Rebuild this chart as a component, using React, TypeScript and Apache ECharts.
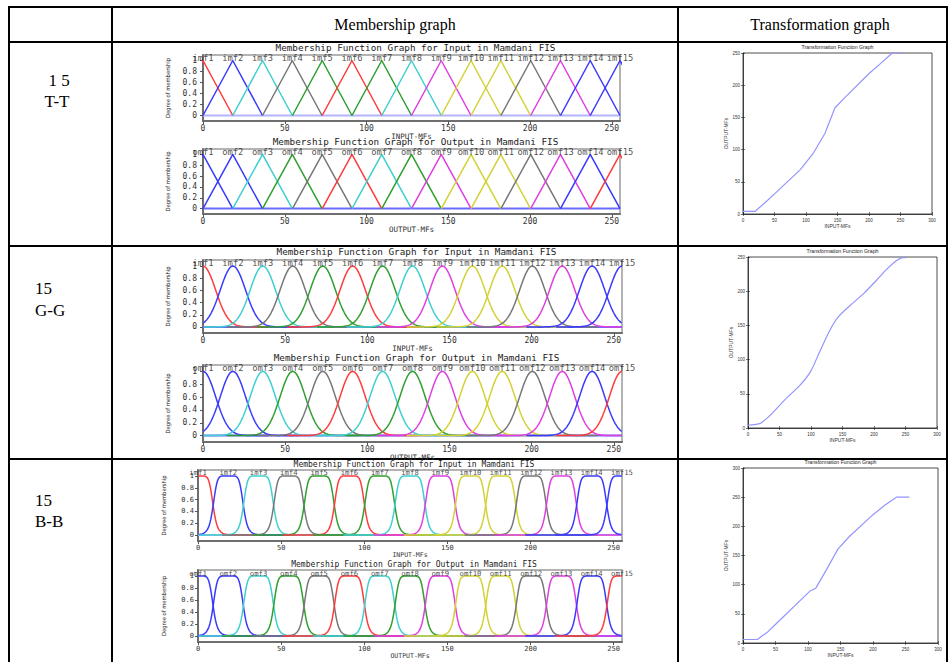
import React, { useEffect, useRef } from "react";
import * as echarts from "echarts";

// ---------- data ----------
const inputNames = ["imf1", "imf2", "imf3", "imf4", "imf5", "imf6", "imf7", "imf8", "imf9", "imf10", "imf11", "imf12", "imf13", "imf14", "imf15"];
const outputNames = ["omf1", "omf2", "omf3", "omf4", "omf5", "omf6", "omf7", "omf8", "omf9", "omf10", "omf11", "omf12", "omf13", "omf14", "omf15"];
// centres of the 15 membership functions on the 0..255 range
const mfCenters = [0, 18.2, 36.4, 54.6, 72.9, 91.1, 109.3, 127.5, 145.7, 163.9, 182.1, 200.4, 218.6, 236.8, 255];
const triHalfBase = 18.2; // triangular MF half base
const gaussSigma = 7.7; // gaussian MF sigma
const bellWidth = 9.1; // generalized bell a
const bellSlope = 3.5; // generalized bell b
const mfRangeMax = 255;

const inputColors = ["#ff3b3b", "#3a3aff", "#3fcfcf", "#777777", "#2f9f2f", "#ff3b3b", "#2f9f2f", "#3fcfcf", "#e03fe0", "#d2d236", "#d2d236", "#777777", "#e03fe0", "#3a3aff", "#3a3aff"];
const outputColors = ["#3a3aff", "#3a3aff", "#3fcfcf", "#2f9f2f", "#777777", "#ff3b3b", "#3fcfcf", "#2f9f2f", "#e03fe0", "#d2d236", "#d2d236", "#777777", "#e03fe0", "#3a3aff", "#ff3b3b"];
const degreeTicks = [0, 0.2, 0.4, 0.6, 0.8, 1];

// transformation curves (input MF value -> output MF value)
const ttInput = [0, 19, 33, 51, 91, 112, 130, 146, 164, 201, 220, 237, 255];
const ttOutput = [4, 4, 16, 32, 69, 95, 125, 165, 183, 219, 235, 250, 250];
const ggInput = [0, 10, 20, 38, 56, 83, 99, 114, 130, 143, 162, 183, 204, 220, 236, 246, 251];
const ggOutput = [4, 5, 7, 21, 39, 63, 82, 112, 143, 162, 179, 196, 216, 232, 245, 249, 249];
const bbInput = [0, 22, 38, 51, 103, 112, 128, 146, 164, 200, 218, 236, 256];
const bbOutput = [6, 6, 19, 33, 89, 94, 125, 161, 183, 220, 236, 250, 250];

const rowLabels = [["1 5", "T-T"], ["15", "G-G"], ["15", "B-B"]];

// ---------- shapes ----------
function triPoints(c: number) {
  return [[c - triHalfBase, 0], [c, 1], [c + triHalfBase, 0]];
}
function gaussPoints(c: number) {
  const pts: number[][] = [];
  for (let k = -80; k <= 80; k++) {
    const x = c + k * 0.5;
    if (x < 0 || x > mfRangeMax) continue;
    pts.push([x, Math.exp(-((x - c) * (x - c)) / (2 * gaussSigma * gaussSigma))]);
  }
  return pts;
}
function bellPoints(c: number) {
  const pts: number[][] = [];
  for (let k = -80; k <= 80; k++) {
    const x = c + k * 0.5;
    if (x < 0 || x > mfRangeMax) continue;
    pts.push([x, 1 / (1 + Math.pow(Math.abs((x - c) / bellWidth), 2 * bellSlope))]);
  }
  return pts;
}

const MONO = "DejaVu Sans Mono";
const SANS = "Liberation Sans";
const SERIF = "Liberation Serif";

type MFPlot = {
  left: number; top: number; width: number; height: number;
  names: string[]; colors: string[]; shape: (c: number) => number[][];
  xName: string; title: string; zeroColor: string; small?: boolean;
  titleGap: number; nameGap: number;
};
type TFPlot = {
  left: number; top: number; width: number; height: number;
  xs: number[]; ys: number[]; yMax: number; smooth: boolean;
};

const mfPlots: MFPlot[] = [
  { left: 203, top: 55, width: 417, height: 66, names: inputNames, colors: inputColors, shape: triPoints, xName: "INPUT-MFs", title: "Membership Function Graph for Input in Mamdani FIS", zeroColor: "#b4b4ff", titleGap: 8, nameGap: 7 },
  { left: 203, top: 149, width: 417, height: 65, names: outputNames, colors: outputColors, shape: triPoints, xName: "OUTPUT-MFs", title: "Membership Function Graph for Output in Mamdani FIS", zeroColor: "#6a6aff", titleGap: 7.5, nameGap: 10 },
  { left: 203, top: 260, width: 419, height: 73, names: inputNames, colors: inputColors, shape: gaussPoints, xName: "INPUT-MFs", title: "Membership Function Graph for Input in Mamdani FIS", zeroColor: "#6a6aff", titleGap: 9, nameGap: 11 },
  { left: 203, top: 365, width: 419, height: 77, names: outputNames, colors: outputColors, shape: gaussPoints, xName: "OUTPUT-MFs", title: "Membership Function Graph for Output in Mamdani FIS", zeroColor: "#6a6aff", titleGap: 7.5, nameGap: 6 },
  { left: 198, top: 470, width: 424, height: 71, names: inputNames, colors: inputColors, shape: bellPoints, xName: "INPUT-MFs", title: "Membership Function Graph for Input in Mamdani FIS", zeroColor: "#b4b4ff", small: true, titleGap: 5.5, nameGap: 7 },
  { left: 198, top: 570, width: 424, height: 72, names: outputNames, colors: outputColors, shape: bellPoints, xName: "OUTPUT-MFs", title: "Membership Function Graph for Output in Mamdani FIS", zeroColor: "#6a6aff", small: true, titleGap: 5.5, nameGap: 6 },
];

const tfPlots: TFPlot[] = [
  { left: 743, top: 53, width: 189, height: 161, xs: ttInput, ys: ttOutput, yMax: 250, smooth: false },
  { left: 748, top: 257, width: 189, height: 171, xs: ggInput, ys: ggOutput, yMax: 250, smooth: true },
  { left: 743, top: 468, width: 195, height: 175, xs: bbInput, ys: bbOutput, yMax: 300, smooth: false },
];

function buildOption() {
  const grid: any[] = [];
  const xAxis: any[] = [];
  const yAxis: any[] = [];
  const series: any[] = [];
  const graphic: any[] = [];

  const text = (t: string, x: number, y: number, size: number, family: string, extra: any = {}) => ({
    type: "text",
    x, y, silent: true,
    style: { text: t, fontSize: size, fontFamily: family, fill: "#000", align: "center", verticalAlign: "middle", textAlign: "center", textVerticalAlign: "middle", ...extra },
  });

  // table lines
  const line = (x1: number, y1: number, x2: number, y2: number) => ({
    type: "line", silent: true, shape: { x1, y1, x2, y2 }, style: { stroke: "#000", lineWidth: 2 },
  });
  graphic.push(line(8, 7, 948, 7));
  graphic.push(line(8, 42, 948, 42));
  graphic.push(line(8, 246, 948, 246));
  graphic.push(line(8, 459, 948, 459));
  graphic.push(line(9, 6, 9, 662));
  graphic.push(line(112, 6, 112, 662));
  graphic.push(line(678, 6, 678, 662));
  graphic.push(line(947, 6, 947, 662));

  graphic.push(text("Membership graph", 395, 24, 16, SERIF));
  graphic.push(text("Transformation graph", 820, 24, 16, SERIF));
  graphic.push(text(rowLabels[0][0], 59, 80, 17, SERIF));
  graphic.push(text(rowLabels[0][1], 57, 101, 17, SERIF));
  graphic.push(text(rowLabels[1][0], 35, 288, 17, SERIF, { align: "left", textAlign: "left" }));
  graphic.push(text(rowLabels[1][1], 35, 310, 17, SERIF, { align: "left", textAlign: "left" }));
  graphic.push(text(rowLabels[2][0], 35, 500, 17, SERIF, { align: "left", textAlign: "left" }));
  graphic.push(text(rowLabels[2][1], 35, 521, 17, SERIF, { align: "left", textAlign: "left" }));

  mfPlots.forEach((p) => {
    const gi = grid.length;
    grid.push({ left: p.left, top: p.top, width: p.width, height: p.height, show: true, borderColor: "#9a9a9a", borderWidth: 1.5, backgroundColor: "rgba(0,0,0,0)" });
    const xi = xAxis.length;
    const fs = p.small ? 7 : 8;
    xAxis.push({
      type: "value", gridIndex: gi, min: 0, max: mfRangeMax, interval: 50,
      axisLine: { show: true, onZero: false, lineStyle: { color: "#6e6e6e", width: 2 } },
      axisTick: { show: true, length: 3, lineStyle: { color: "#555" } },
      axisLabel: { fontFamily: MONO, fontSize: fs, color: "#333", margin: 3 },
      splitLine: { show: false },
      name: p.xName, nameLocation: "middle", nameGap: p.nameGap,
      nameTextStyle: { fontFamily: MONO, fontSize: p.small ? 6.5 : 7.5, color: "#333" },
    });
    const yi = yAxis.length;
    yAxis.push({
      type: "value", gridIndex: gi, min: -0.1, max: 1.1,
      axisLine: { show: true, onZero: false, lineStyle: { color: "#6e6e6e", width: 2 } },
      axisTick: { show: true, length: 2, customValues: degreeTicks, lineStyle: { color: "#555" } },
      axisLabel: { customValues: degreeTicks, fontFamily: MONO, fontSize: fs, color: "#333", margin: p.small ? 4 : 6, formatter: (v: number) => String(Math.round(v * 10) / 10) },
      splitLine: { show: false },
      name: "Degree of membership", nameLocation: "middle", nameRotate: 90, nameGap: p.small ? 31 : 32,
      nameTextStyle: { fontFamily: "DejaVu Sans Condensed", fontSize: 5.8, color: "#222" },
    });
    yAxis.push({
      type: "value", gridIndex: gi, min: -0.1, max: 1.1, position: "right",
      axisLine: { show: false }, axisLabel: { show: false }, splitLine: { show: false },
      axisTick: { show: true, inside: true, length: 3, customValues: degreeTicks, lineStyle: { color: "#555" } },
    });
    // title
    graphic.push(text(p.title, p.left + p.width / 2 + 4, p.top - p.titleGap, p.small ? 8 : 9.3, MONO, { fill: "#222" }));

    // zero line
    series.push({
      type: "line", xAxisIndex: xi, yAxisIndex: yi, silent: true, symbol: "none",
      data: [[0, 0], [mfRangeMax, 0]], lineStyle: { color: p.zeroColor, width: 2 }, z: 1,
    });
    mfCenters.forEach((c, k) => {
      series.push({
        type: "line", xAxisIndex: xi, yAxisIndex: yi, silent: true, symbol: "none", clip: true,
        data: p.shape(c), lineStyle: { color: p.colors[k], width: 1.5 }, z: 2,
      });
    });
    series.push({
      type: "scatter", xAxisIndex: xi, yAxisIndex: yi, silent: true, symbolSize: 1, clip: false,
      itemStyle: { color: "rgba(0,0,0,0)" }, z: 3,
      data: mfCenters.map((c, k) => ({ value: [c, 1.05], name: p.names[k] })),
      label: { show: true, position: "inside", formatter: (d: any) => d.name, fontFamily: MONO, fontSize: p.small ? 7.3 : 8.8, color: "#222" },
    });
  });

  tfPlots.forEach((p) => {
    const gi = grid.length;
    grid.push({ left: p.left, top: p.top, width: p.width, height: p.height, show: true, borderColor: "#222", borderWidth: 0.8, backgroundColor: "rgba(0,0,0,0)" });
    const xi = xAxis.length;
    xAxis.push({
      type: "value", gridIndex: gi, min: 0, max: 300, interval: 50,
      axisLine: { show: true, onZero: false, lineStyle: { color: "#222", width: 0.8 } },
      axisTick: { show: true, inside: true, length: 2, lineStyle: { color: "#222", width: 0.6 } },
      axisLabel: { fontFamily: SANS, fontSize: 4.5, color: "#333", margin: 4 },
      splitLine: { show: false },
      name: "INPUT-MFs", nameLocation: "middle", nameGap: 9,
      nameTextStyle: { fontFamily: SANS, fontSize: 5, color: "#333" },
    });
    xAxis.push({
      type: "value", gridIndex: gi, min: 0, max: 300, interval: 50, position: "top",
      axisLine: { show: false }, axisLabel: { show: false }, splitLine: { show: false },
      axisTick: { show: true, inside: true, length: 2, lineStyle: { color: "#222", width: 0.6 } },
    });
    const yi = yAxis.length;
    yAxis.push({
      type: "value", gridIndex: gi, min: 0, max: p.yMax, interval: 50,
      axisLine: { show: true, onZero: false, lineStyle: { color: "#222", width: 0.8 } },
      axisTick: { show: true, inside: true, length: 2, lineStyle: { color: "#222", width: 0.6 } },
      axisLabel: { fontFamily: SANS, fontSize: 4.5, color: "#333", margin: 3 },
      splitLine: { show: false },
      name: "OUTPUT-MFs", nameLocation: "middle", nameRotate: 90, nameGap: 13,
      nameTextStyle: { fontFamily: SANS, fontSize: 5, color: "#333" },
    });
    yAxis.push({
      type: "value", gridIndex: gi, min: 0, max: p.yMax, interval: 50, position: "right",
      axisLine: { show: false }, axisLabel: { show: false }, splitLine: { show: false },
      axisTick: { show: true, inside: true, length: 2, lineStyle: { color: "#222", width: 0.6 } },
    });
    graphic.push(text("Transformation Function Graph", p.left + p.width / 2, p.top - 6, 5.2, SANS, { fill: "#222" }));
    series.push({
      type: "line", xAxisIndex: xi, yAxisIndex: yi, silent: true, symbol: "none",
      smooth: p.smooth ? 0.3 : false,
      data: p.xs.map((x, k) => [x, p.ys[k]]),
      lineStyle: { color: "#9494ff", width: 1.2 },
    });
  });

  return { animation: false, backgroundColor: "#fff", grid, xAxis, yAxis, series, graphic };
}

export default function App() {
  const ref = useRef<HTMLDivElement>(null);
  useEffect(() => {
    document.body.style.margin = "0";
    if (!ref.current) return;
    const chart = echarts.init(ref.current, undefined, { renderer: "svg" });
    chart.setOption(buildOption() as any);
    return () => chart.dispose();
  }, []);
  return <div ref={ref} style={{ position: "absolute", left: 0, top: 0, width: 950, height: 662 }} />;
}
